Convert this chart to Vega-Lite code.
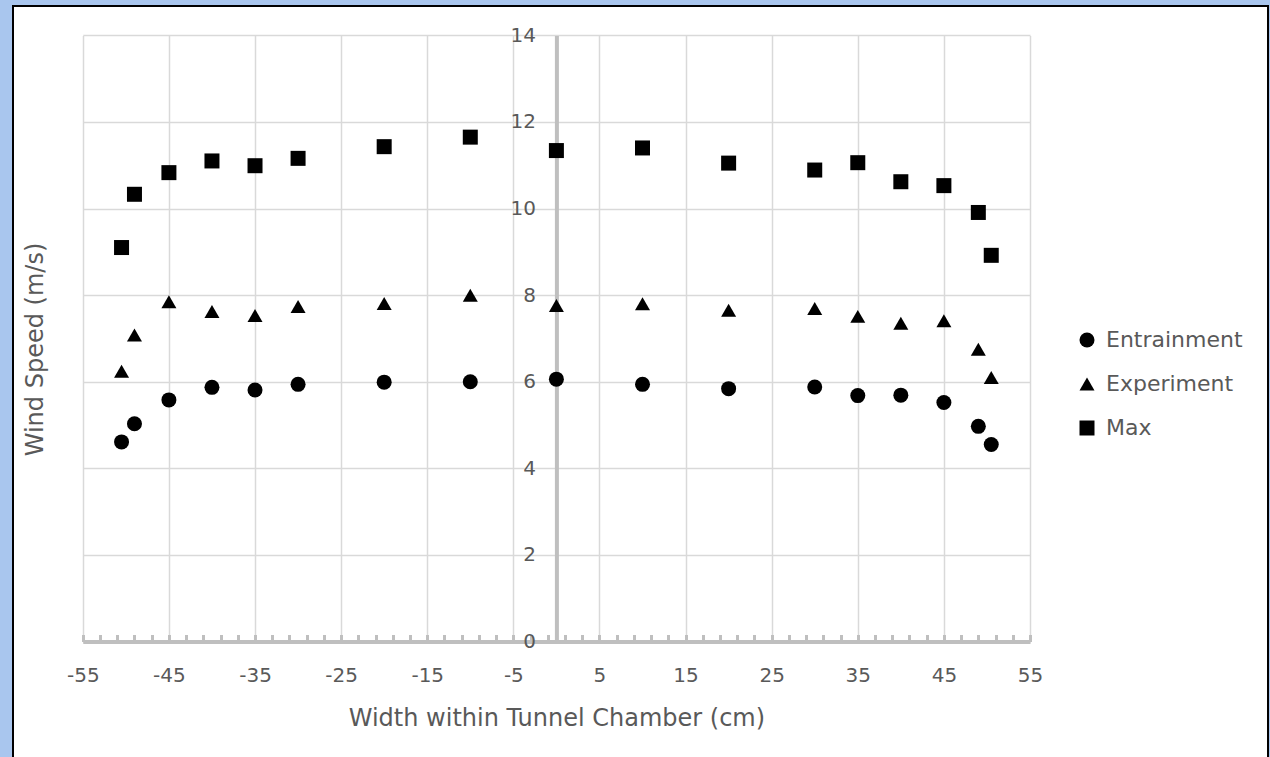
{
  "$schema": "https://vega.github.io/schema/vega-lite/v6.json",
  "width": 1255,
  "height": 754,
  "autosize": {"type": "none"},
  "padding": {"left": 13, "top": 6, "right": 2, "bottom": -3},
  "background": "#a9c6ee",
  "config": {
    "view": {"fill": "white", "stroke": "black", "strokeWidth": 2},
    "font": "DejaVu Sans"
  },
  "data": {
    "values": [
      {"x": -50.5, "speed": 4.61, "series": "Entrainment"},
      {"x": -49, "speed": 5.03, "series": "Entrainment"},
      {"x": -45, "speed": 5.58, "series": "Entrainment"},
      {"x": -40, "speed": 5.87, "series": "Entrainment"},
      {"x": -35, "speed": 5.81, "series": "Entrainment"},
      {"x": -30, "speed": 5.94, "series": "Entrainment"},
      {"x": -20, "speed": 5.99, "series": "Entrainment"},
      {"x": -10, "speed": 6.00, "series": "Entrainment"},
      {"x": 0, "speed": 6.06, "series": "Entrainment"},
      {"x": 10, "speed": 5.94, "series": "Entrainment"},
      {"x": 20, "speed": 5.84, "series": "Entrainment"},
      {"x": 30, "speed": 5.88, "series": "Entrainment"},
      {"x": 35, "speed": 5.68, "series": "Entrainment"},
      {"x": 40, "speed": 5.69, "series": "Entrainment"},
      {"x": 45, "speed": 5.52, "series": "Entrainment"},
      {"x": 49, "speed": 4.97, "series": "Entrainment"},
      {"x": 50.5, "speed": 4.55, "series": "Entrainment"},
      {"x": -50.5, "speed": 6.24, "series": "Experiment"},
      {"x": -49, "speed": 7.08, "series": "Experiment"},
      {"x": -45, "speed": 7.85, "series": "Experiment"},
      {"x": -40, "speed": 7.62, "series": "Experiment"},
      {"x": -35, "speed": 7.53, "series": "Experiment"},
      {"x": -30, "speed": 7.74, "series": "Experiment"},
      {"x": -20, "speed": 7.81, "series": "Experiment"},
      {"x": -10, "speed": 8.00, "series": "Experiment"},
      {"x": 0, "speed": 7.76, "series": "Experiment"},
      {"x": 10, "speed": 7.80, "series": "Experiment"},
      {"x": 20, "speed": 7.65, "series": "Experiment"},
      {"x": 30, "speed": 7.69, "series": "Experiment"},
      {"x": 35, "speed": 7.51, "series": "Experiment"},
      {"x": 40, "speed": 7.35, "series": "Experiment"},
      {"x": 45, "speed": 7.41, "series": "Experiment"},
      {"x": 49, "speed": 6.75, "series": "Experiment"},
      {"x": 50.5, "speed": 6.10, "series": "Experiment"},
      {"x": -50.5, "speed": 9.10, "series": "Max"},
      {"x": -49, "speed": 10.33, "series": "Max"},
      {"x": -45, "speed": 10.83, "series": "Max"},
      {"x": -40, "speed": 11.10, "series": "Max"},
      {"x": -35, "speed": 10.99, "series": "Max"},
      {"x": -30, "speed": 11.16, "series": "Max"},
      {"x": -20, "speed": 11.43, "series": "Max"},
      {"x": -10, "speed": 11.65, "series": "Max"},
      {"x": 0, "speed": 11.34, "series": "Max"},
      {"x": 10, "speed": 11.40, "series": "Max"},
      {"x": 20, "speed": 11.05, "series": "Max"},
      {"x": 30, "speed": 10.89, "series": "Max"},
      {"x": 35, "speed": 11.06, "series": "Max"},
      {"x": 40, "speed": 10.62, "series": "Max"},
      {"x": 45, "speed": 10.53, "series": "Max"},
      {"x": 49, "speed": 9.91, "series": "Max"},
      {"x": 50.5, "speed": 8.92, "series": "Max"}
    ]
  },
  "mark": {"type": "point", "filled": true, "opacity": 1, "size": 225, "color": "black"},
  "encoding": {
    "x": {
      "field": "x",
      "type": "quantitative",
      "scale": {"domain": [-55, 55], "range": [69.8, 1017], "nice": false, "zero": false},
      "axis": {
        "orient": "top",
        "title": "Width within Tunnel Chamber (cm)",
        "titleFontSize": 24,
        "titleFontWeight": "normal",
        "titleColor": "#595959",
        "titleBaseline": "middle",
        "titleY": 77,
        "offset": -635.5,
        "values": [-55,-53,-51,-49,-47,-45,-43,-41,-39,-37,-35,-33,-31,-29,-27,-25,-23,-21,-19,-17,-15,-13,-11,-9,-7,-5,-3,-1,1,3,5,7,9,11,13,15,17,19,21,23,25,27,29,31,33,35,37,39,41,43,45,47,49,51,53,55],
        "labelExpr": "abs(datum.value) % 10 == 5 ? toString(datum.value) : ''",
        "labelOverlap": false,
        "labelFlush": false,
        "labelFontSize": 20,
        "labelColor": "#595959",
        "labelBaseline": "top",
        "labelPadding": -31,
        "tickSize": 7,
        "tickColor": "#bfbfbf",
        "tickWidth": 3,
        "domainColor": "#bfbfbf",
        "domainWidth": 4,
        "gridColor": "#d9d9d9",
        "gridWidth": 1.5,
        "gridOpacity": {"condition": {"test": "abs(datum.value) % 10 == 5", "value": 1}, "value": 0},
        "encoding": {
          "ticks": {
            "update": {
              "y": {"signal": "abs(datum.value) % 10 == 5 ? -7 : -4.5"},
              "y2": {"signal": "abs(datum.value) % 10 == 5 ? 7 : 4.5"}
            }
          }
        }
      }
    },
    "y": {
      "field": "speed",
      "type": "quantitative",
      "scale": {"domain": [0, 14], "range": [635.5, 29.4], "nice": false, "zero": false},
      "axis": {
        "title": "Wind Speed (m/s)",
        "titleFontSize": 24,
        "titleFontWeight": "normal",
        "titleColor": "#595959",
        "titleBaseline": "middle",
        "titleX": -521.4,
        "titleY": 343,
        "offset": -543.4,
        "values": [0, 2, 4, 6, 8, 10, 12, 14],
        "ticks": false,
        "tickSize": 0,
        "labelPadding": 21,
        "labelFontSize": 20,
        "labelColor": "#595959",
        "labelOverlap": false,
        "labelFlush": false,
        "domainColor": "#bfbfbf",
        "domainWidth": 4,
        "gridColor": "#d9d9d9",
        "gridWidth": 1.5
      }
    },
    "shape": {
      "field": "series",
      "type": "nominal",
      "scale": {"domain": ["Entrainment", "Experiment", "Max"], "range": ["circle", "triangle-up", "square"]},
      "legend": {
        "title": null,
        "orient": "none",
        "legendX": 1063,
        "legendY": 323,
        "padding": 0,
        "labelFontSize": 22,
        "labelColor": "#595959",
        "labelOffset": 8,
        "rowPadding": 22,
        "symbolSize": 225,
        "symbolFillColor": "black",
        "symbolStrokeColor": "black",
        "symbolStrokeWidth": 0
      }
    }
  }
}
